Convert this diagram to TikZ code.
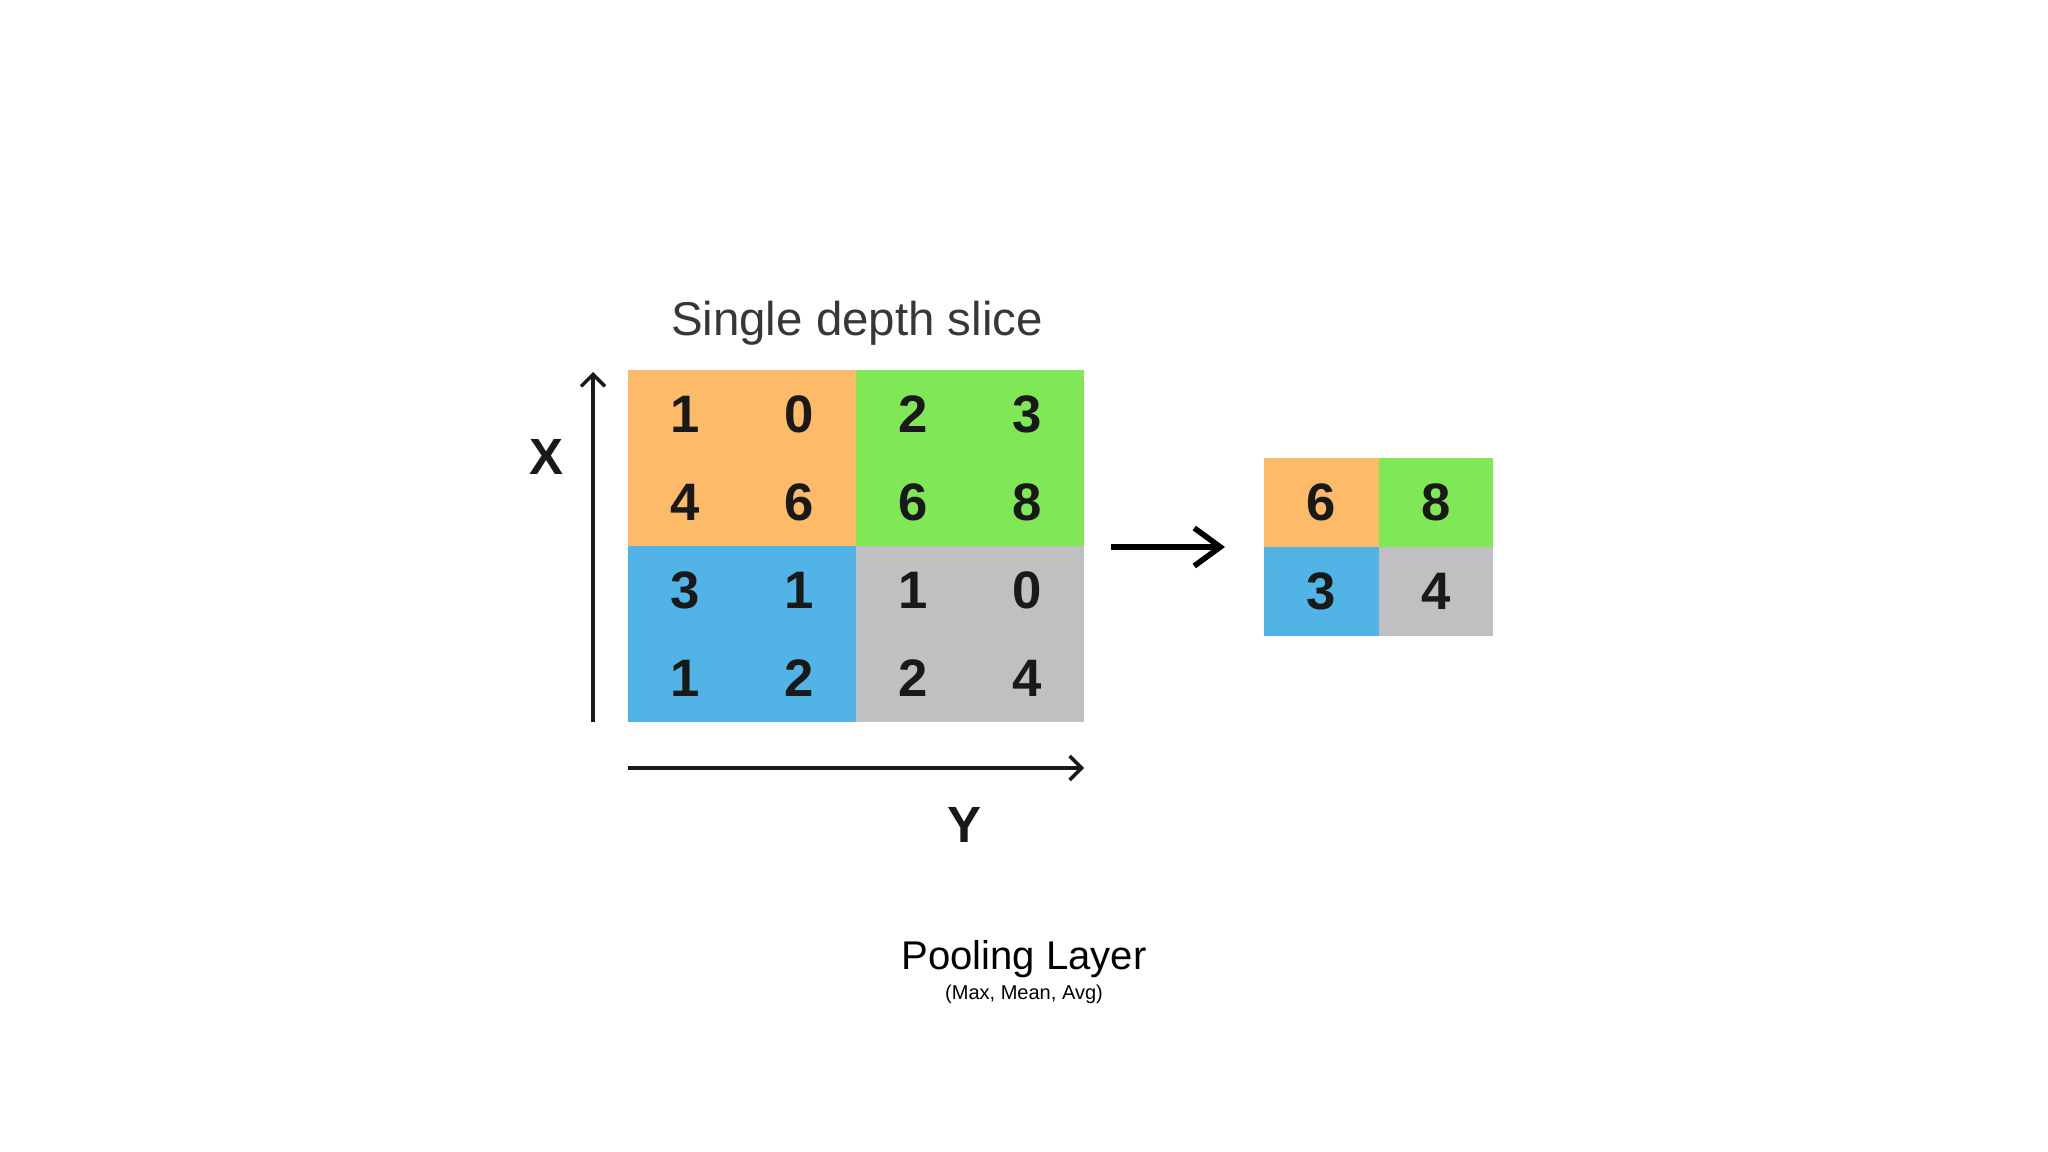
\documentclass[tikz,border=0pt]{standalone}
\usepackage{fontspec}
\setmainfont{Liberation Sans}
\usepackage{tikz}
\usetikzlibrary{arrows.meta}

\definecolor{poolorange}{RGB}{253,187,105}
\definecolor{poolgreen}{RGB}{128,232,86}
\definecolor{poolblue}{RGB}{82,180,230}
\definecolor{poolgray}{RGB}{192,192,194}
\definecolor{numtext}{RGB}{25,25,25}
\definecolor{titletext}{RGB}{55,55,55}

\begin{document}
\begin{tikzpicture}[
			cell/.style={minimum width=1.14cm,minimum height=0.88cm,inner sep=0pt,outer sep=0pt,
				text=numtext,font=\fontsize{15}{18}\selectfont\bfseries},
			orange cell/.style={cell,fill=poolorange},
			green cell/.style={cell,fill=poolgreen},
			blue cell/.style={cell,fill=poolblue},
			gray cell/.style={cell,fill=poolgray},
			axis label/.style={font=\fontsize{14.5}{17}\selectfont\bfseries,text=numtext},
			axis arrow/.style={-{Straight Barb[length=1.2mm,width=2.4mm]},line width=1pt,draw=numtext},
			pool arrow/.style={-{Straight Barb[length=2.6mm,width=3.8mm]},line width=1.6pt}
			]

			\useasboundingbox (0,0) rectangle (20.48,-11.52);

			\def \ca {6.85};
			\def \cb {7.99};
			\def \cc {9.13};
			\def \cd {10.27};
			\def \ra {-4.14};
			\def \rb {-5.02};
			\def \rc {-5.90};
			\def \rd {-6.78};

			\node[font=\fontsize{13.5}{16}\selectfont,text=titletext] at (8.57,-3.23) (title) {Single depth slice};

			% input slice
			\node[orange cell] at (\ca,\ra) (a11) {1};
			\node[orange cell] at (\cb,\ra) (a12) {0};
			\node[green cell] at (\cc,\ra) (a13) {2};
			\node[green cell] at (\cd,\ra) (a14) {3};
			\node[orange cell] at (\ca,\rb) (a21) {4};
			\node[orange cell] at (\cb,\rb) (a22) {6};
			\node[green cell] at (\cc,\rb) (a23) {6};
			\node[green cell] at (\cd,\rb) (a24) {8};
			\node[blue cell] at (\ca,\rc) (a31) {3};
			\node[blue cell] at (\cb,\rc) (a32) {1};
			\node[gray cell] at (\cc,\rc) (a33) {1};
			\node[gray cell] at (\cd,\rc) (a34) {0};
			\node[blue cell] at (\ca,\rd) (a41) {1};
			\node[blue cell] at (\cb,\rd) (a42) {2};
			\node[gray cell] at (\cc,\rd) (a43) {2};
			\node[gray cell] at (\cd,\rd) (a44) {4};

			% axes
			\coordinate (x from) at (5.93,-7.22);
			\coordinate (x to) at (5.93,-3.72);
			\coordinate (y from) at (6.28,-7.68);
			\coordinate (y to) at (10.84,-7.68);
			\draw[axis arrow] (x from) -- (x to);
			\draw[axis arrow] (y from) -- (y to);
			\node[axis label] at (5.46,-4.57) (X) {X};
			\node[axis label] at (9.64,-8.25) (Y) {Y};

			% pooled output
			\node[orange cell,minimum width=1.145cm,minimum height=0.89cm] at (13.215,-5.025) (b11) {6};
			\node[green cell,minimum width=1.145cm,minimum height=0.89cm] at (14.36,-5.025) (b12) {8};
			\node[blue cell,minimum width=1.145cm,minimum height=0.89cm] at (13.215,-5.915) (b21) {3};
			\node[gray cell,minimum width=1.145cm,minimum height=0.89cm] at (14.36,-5.915) (b22) {4};

			\coordinate (p from) at (11.11,-5.47);
			\coordinate (p to) at (12.25,-5.47);
			\draw[pool arrow] (p from) -- (p to);

			\node[font=\fontsize{11.4}{14}\selectfont] at (10.24,-9.59) (pool) {Pooling Layer};
			\node[font=\fontsize{5.7}{7}\selectfont] at (10.24,-9.94) (kinds) {(Max, Mean, Avg)};
		\end{tikzpicture}
\end{document}
